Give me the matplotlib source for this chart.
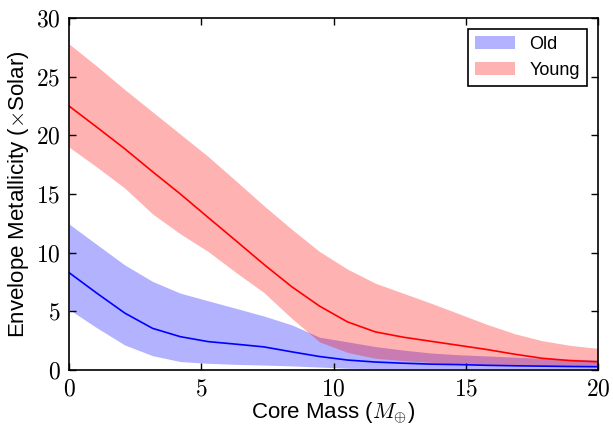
import numpy as np
import matplotlib
matplotlib.use("Agg")
from matplotlib import pyplot as plt
from matplotlib.ticker import FuncFormatter

# core mass grid (Earth masses)
core_mass = [0.0, 1.05, 2.11, 3.16, 4.21, 5.26, 6.32, 7.37, 8.42, 9.47,
             10.53, 11.58, 12.63, 13.68, 14.74, 15.79, 16.84, 17.89, 18.95, 20.0]

# old population: median and spread of envelope metallicity
old_mid = [8.3, 6.55, 4.85, 3.55, 2.84, 2.42, 2.2, 1.97, 1.55, 1.15,
           0.85, 0.68, 0.58, 0.5, 0.46, 0.4, 0.36, 0.33, 0.3, 0.28]
old_hi = [12.45, 10.7, 8.95, 7.55, 6.55, 5.9, 5.25, 4.6, 3.85, 2.8,
          2.4, 2.0, 1.7, 1.45, 1.3, 1.2, 1.1, 1.0, 0.92, 0.85]
old_lo = [5.17, 3.6, 2.13, 1.22, 0.72, 0.57, 0.48, 0.42, 0.35, 0.25,
          0.15, 0.12, 0.1, 0.1, 0.1, 0.1, 0.1, 0.1, 0.1, 0.1]

# young population
young_mid = [22.5, 20.7, 18.85, 16.9, 15.0, 13.0, 11.0, 9.0, 7.1, 5.45,
             4.1, 3.25, 2.8, 2.45, 2.1, 1.75, 1.35, 1.0, 0.8, 0.7]
young_hi = [27.8, 25.9, 23.9, 22.0, 20.1, 18.2, 16.1, 14.0, 12.0, 10.1,
            8.6, 7.4, 6.55, 5.7, 4.8, 3.9, 3.1, 2.5, 2.1, 1.85]
young_lo = [19.0, 17.3, 15.5, 13.3, 11.6, 10.1, 8.3, 6.6, 4.4, 2.4,
            1.5, 1.0, 0.8, 0.65, 0.5, 0.45, 0.42, 0.38, 0.35, 0.33]

plt.rcParams['font.family'] = ['Liberation Sans', 'DejaVu Sans']
plt.rcParams['mathtext.fontset'] = 'cm'

fig = plt.figure(figsize=(6.13, 4.25), dpi=100)
ax = fig.add_axes([0.1126, 0.1294, 0.8629, 0.8282])

ax.fill_between(core_mass, old_lo, old_hi, color='b', alpha=0.3, lw=0, label='Old')
ax.fill_between(core_mass, young_lo, young_hi, color='r', alpha=0.3, lw=0, label='Young')
ax.plot(core_mass, young_mid, color='r', lw=1.2)
ax.plot(core_mass, old_mid, color='b', lw=1.2)

ax.set_xlim(0, 20)
ax.set_ylim(0, 30)
ax.set_xticks([0, 5, 10, 15, 20])
ax.set_yticks([0, 5, 10, 15, 20, 25, 30])
fmt = FuncFormatter(lambda v, p: r'$%d$' % v)
ax.xaxis.set_major_formatter(fmt)
ax.yaxis.set_major_formatter(fmt)
ax.tick_params(direction='in', top=True, right=True, length=5, width=1,
               labelsize=17, pad=6)
for s in ax.spines.values():
    s.set_linewidth(1.2)

ax.set_xlabel(r'Core Mass ($M_{\oplus}$)', fontsize=16, labelpad=0)
ax.set_ylabel(r'Envelope Metallicity ($\times$Solar)', fontsize=16, labelpad=4)

leg = ax.legend(loc='upper right', fontsize=13, fancybox=False, framealpha=1,
                edgecolor='black', borderaxespad=0.6, handlelength=2.2)
leg.get_frame().set_linewidth(1.2)

fig.savefig('out.png', dpi=100)
